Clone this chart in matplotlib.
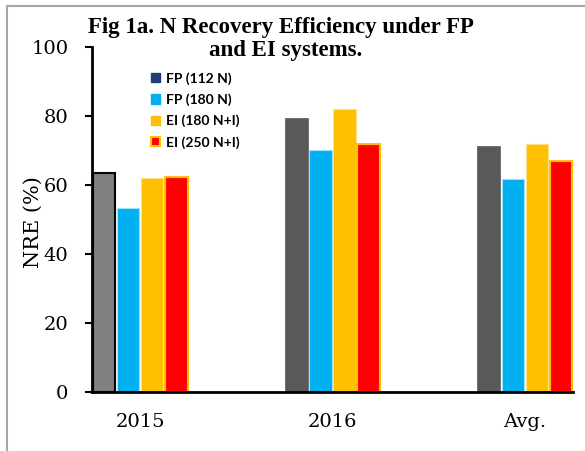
import matplotlib.pyplot as plt
import matplotlib.patches as mpatches
import numpy as np

# data
groups = ["2015", "2016", "Avg."]
fp_112 = [63.5, 79.4, 71.3]
fp_180 = [53.3, 70.0, 61.7]
ei_180 = [62.0, 82.0, 72.0]
ei_250 = [62.3, 71.8, 67.0]
series_labels = ["FP (112 N)", "FP (180 N)", "EI (180 N+I)", "EI (250 N+I)"]

serif = ["DejaVu Serif"]
title_font = ["Liberation Serif", "DejaVu Serif"]

fig = plt.figure(figsize=(5.85, 4.51), dpi=100)
ax = fig.add_axes([92 / 585, 59 / 451, 481 / 585, 345 / 451])

x = np.arange(len(groups))
step = 0.125
w = 0.118

# FP 112 N: first bar lighter grey with black edge
fp112_colors = ["#808080", "#595959", "#595959"]
fp112_edges = ["black", "#595959", "#595959"]
fp112_lw = [1.5, 0.5, 0.5]
ax.bar(x - 1.5 * step, fp_112, w, color=fp112_colors, edgecolor=fp112_edges, linewidth=fp112_lw)
ax.bar(x - 0.5 * step, fp_180, w, color="#00B0F0", edgecolor="#9DE3FA", linewidth=0.8)
ax.bar(x + 0.5 * step, ei_180, w, color="#FFC000", edgecolor="#FFE08A", linewidth=0.8)
ax.bar(x + 1.5 * step, ei_250, w, color="#FF0000", edgecolor="#FFC000", linewidth=1.5)

ax.set_xlim(-0.25, 2.25)
ax.set_ylim(0, 100)
ax.set_yticks([0, 20, 40, 60, 80, 100])
ax.set_xticks(x)
ax.set_xticklabels(groups)

for s in ["top", "right"]:
    ax.spines[s].set_visible(False)
ax.spines["left"].set_linewidth(2)
ax.spines["bottom"].set_linewidth(2)
ax.tick_params(axis="y", direction="out", length=5, width=1.5, labelsize=14, pad=12)
ax.tick_params(axis="x", length=0, labelsize=14, pad=15)
for lab in ax.get_xticklabels() + ax.get_yticklabels():
    lab.set_family(serif)

fig.text(33 / 585, 1 - 222 / 451, "NRE (%)", rotation=90, ha="center", va="center",
         fontsize=15, family=serif)

# two-line bold title, placed line by line
fig.text(281 / 585, 1 - 33 / 451, "Fig 1a. N Recovery Efficiency under FP",
         ha="center", va="baseline", fontsize=16.5, fontweight="bold", family=title_font)
fig.text(286 / 585, 1 - 56 / 451, "and EI systems.",
         ha="center", va="baseline", fontsize=16.5, fontweight="bold", family=title_font)

handles = [
    mpatches.Patch(facecolor="#1F3F73", edgecolor="#1F3F73"),
    mpatches.Patch(facecolor="#00B0F0", edgecolor="#00B0F0"),
    mpatches.Patch(facecolor="#FFC000", edgecolor="#FFC000"),
    mpatches.Patch(facecolor="#FF0000", edgecolor="#FFC000", linewidth=1.5),
]
leg = ax.legend(handles, series_labels, loc="upper left", bbox_to_anchor=(151 / 585, 1 - 72 / 451),
                bbox_transform=fig.transFigure, frameon=False,
                prop={"family": ["Lato", "DejaVu Sans"], "weight": "bold", "size": 10},
                handlelength=0.65, handleheight=0.65, handletextpad=0.45, labelspacing=0.62,
                borderaxespad=0, borderpad=0)

# light grey frame around the chart area
frame = mpatches.Rectangle((7 / 585, -0.1), 1.2, 1 - 6 / 451 + 0.1, transform=fig.transFigure,
                           fill=False, edgecolor="#A6A6A6", linewidth=1.5)
fig.patches.append(frame)

plt.savefig("out.png", dpi=100)
plt.close()
